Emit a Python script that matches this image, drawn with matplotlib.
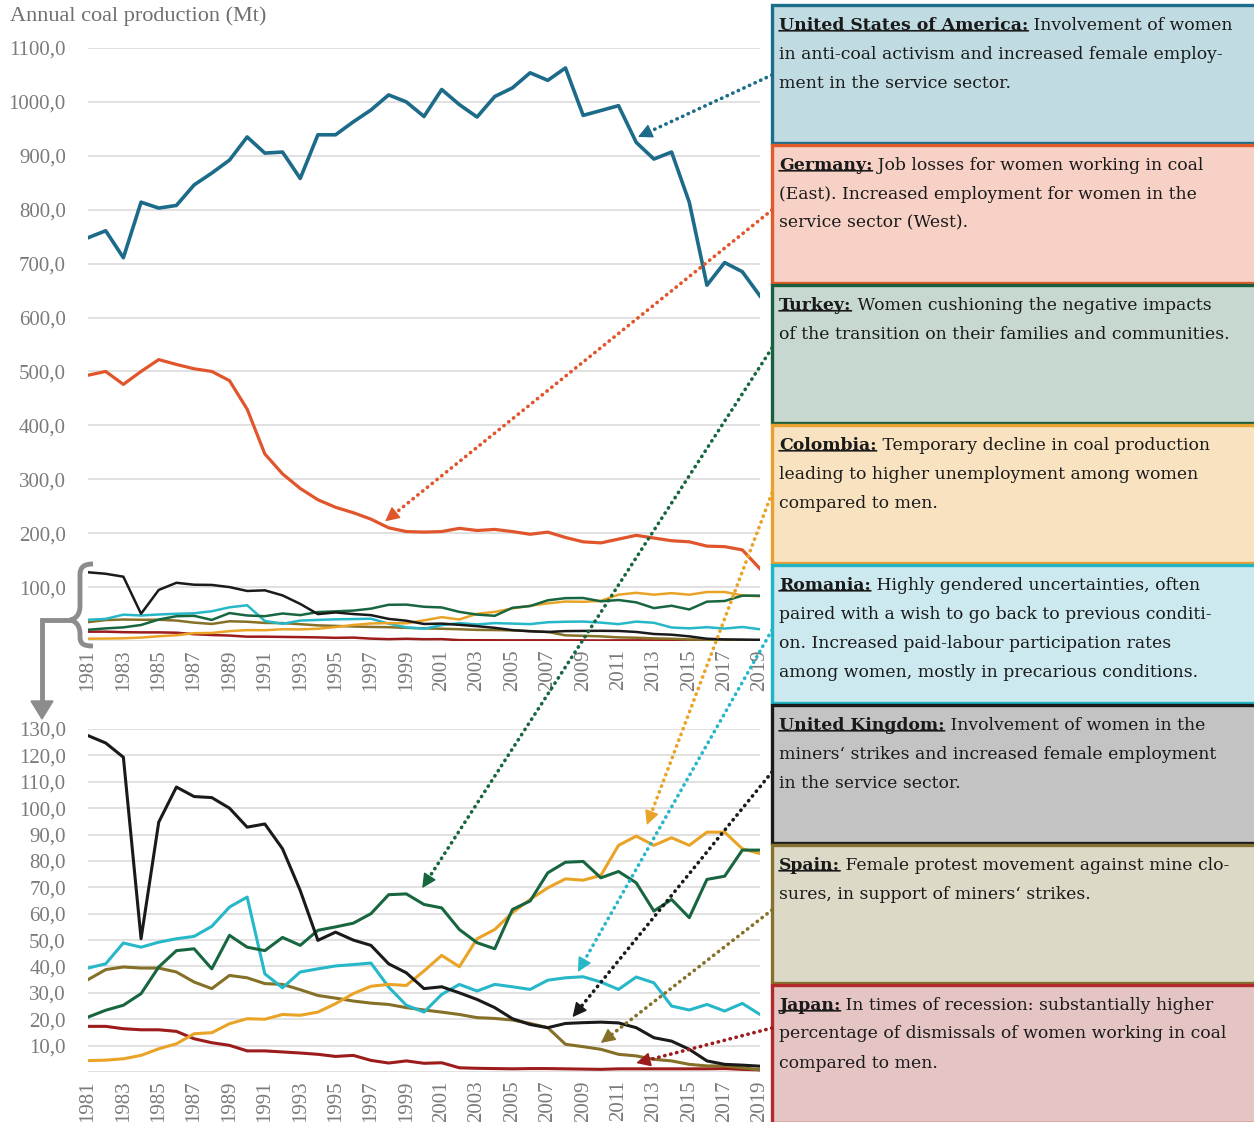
import matplotlib
matplotlib.use("Agg")
import numpy as np
import matplotlib.pyplot as plt
from matplotlib.patches import Rectangle, PathPatch, Polygon
from matplotlib.path import Path

plt.rcParams['font.family'] = ['Liberation Serif', 'DejaVu Serif']

years = list(range(1981, 2020))

# annual coal production (Mt)
usa = [748, 761, 711, 814, 803, 808, 846, 868, 892, 935, 905, 907, 858, 939, 939, 963,
       985, 1013, 1000, 973, 1023, 995, 972, 1010, 1026, 1054, 1040, 1063, 975, 984, 993,
       925, 894, 907, 814, 660, 702, 685, 640]
germany = [493, 500, 476, 500, 522, 513, 505, 500, 483, 430, 347, 310, 283, 262, 248, 238,
           226, 210, 203, 202, 203, 209, 205, 207, 203, 198, 202, 192, 184, 182, 189, 196,
           191, 186, 184, 176, 175, 169, 134]
turkey = [20.8, 23.4, 25.3, 29.7, 39.8, 46.0, 46.7, 39.1, 51.8, 47.3, 46.0, 51.0, 48.0, 53.7,
          55.0, 56.4, 60.0, 67.2, 67.5, 63.5, 62.2, 54.0, 49.0, 46.7, 61.6, 64.8, 75.5, 79.5,
          79.8, 73.6, 76.0, 71.7, 61.0, 65.4, 58.5, 73.0, 74.2, 84.1, 84.1]
colombia = [4.3, 4.5, 5.0, 6.3, 8.8, 10.7, 14.5, 14.9, 18.3, 20.2, 20.0, 21.8, 21.5, 22.7,
            25.9, 29.7, 32.5, 33.2, 32.8, 38.3, 44.2, 39.9, 50.5, 54.0, 60.4, 65.4, 69.8,
            73.2, 72.7, 74.5, 85.9, 89.4, 85.9, 88.8, 85.9, 90.9, 90.9, 84.6, 82.8]
romania = [39.4, 41.0, 48.9, 47.3, 49.2, 50.5, 51.4, 55.2, 62.5, 66.3, 37.2, 31.9, 37.9,
           39.1, 40.2, 40.7, 41.3, 32.2, 25.3, 22.7, 29.4, 33.2, 30.7, 33.2, 32.3, 31.3, 34.8,
           35.7, 36.1, 34.1, 31.3, 36.0, 33.8, 25.0, 23.5, 25.6, 23.1, 26.0, 21.8]
uk = [127.5, 124.7, 119.3, 50.5, 94.7, 108.0, 104.4, 104.0, 100.0, 92.8, 94.0, 84.6, 68.8,
      49.9, 53.0, 50.0, 48.0, 41.0, 37.6, 31.6, 32.3, 30.0, 27.5, 24.4, 20.2, 18.0, 16.8,
      18.4, 18.7, 18.9, 18.6, 16.8, 13.0, 11.7, 8.6, 4.2, 2.9, 2.6, 2.2]
spain = [35.0, 38.8, 39.8, 39.4, 39.4, 37.9, 34.1, 31.6, 36.6, 35.7, 33.5, 33.2, 31.2, 29.0,
         28.0, 26.9, 26.1, 25.6, 24.4, 23.5, 22.7, 21.8, 20.6, 20.3, 19.7, 18.4, 16.8, 10.5,
         9.6, 8.6, 6.7, 6.1, 4.8, 4.2, 2.9, 2.3, 2.3, 1.6, 0.8]
japan = [17.3, 17.3, 16.4, 16.0, 16.0, 15.4, 12.6, 11.1, 10.1, 8.0, 8.0, 7.6, 7.2, 6.7, 5.9,
         6.3, 4.4, 3.4, 4.2, 3.3, 3.5, 1.6, 1.4, 1.3, 1.2, 1.3, 1.3, 1.2, 1.1, 1.0, 1.2, 1.2,
         1.2, 1.2, 1.2, 1.2, 1.3, 1.0, 0.8]

line_colors = {'usa': '#1b6b89', 'germany': '#e0552b', 'turkey': '#17663f',
               'colombia': '#e9a326', 'romania': '#26b7c8', 'uk': '#1a1a1a',
               'spain': '#857027', 'japan': '#9c1b1b'}

small = [('japan', japan), ('spain', spain), ('romania', romania),
         ('colombia', colombia), ('turkey', turkey), ('uk', uk)]

# text boxes: (key, country, lines, fill, edge)
boxes = [
    ('usa', 'United States of America:',
     [' Involvement of women', 'in anti-coal activism and increased female employ-',
      'ment in the service sector.'], '#c0dbe2', '#1c6e8c'),
    ('germany', 'Germany:',
     [' Job losses for women working in coal', '(East). Increased employment for women in the',
      'service sector (West).'], '#f7d1c5', '#e05a2a'),
    ('turkey', 'Turkey:',
     [' Women cushioning the negative impacts',
      'of the transition on their families and communities.'], '#c6d8cf', '#1b5e3e'),
    ('colombia', 'Colombia:',
     [' Temporary decline in coal production', 'leading to higher unemployment among women',
      'compared to men.'], '#f8e2c0', '#e9a02e'),
    ('romania', 'Romania:',
     [' Highly gendered uncertainties, often',
      'paired with a wish to go back to previous conditi-',
      'on. Increased paid-labour participation rates',
      'among women, mostly in precarious conditions.'], '#cce9ef', '#1fb3c4'),
    ('uk', 'United Kingdom:',
     [' Involvement of women in the', 'miners\u2018 strikes and increased female employment',
      'in the service sector.'], '#c3c3c3', '#1a1a1a'),
    ('spain', 'Spain:',
     [' Female protest movement against mine clo-', 'sures, in support of miners\u2018 strikes.'],
     '#dcd9c6', '#857131'),
    ('japan', 'Japan:',
     [' In times of recession: substantially higher',
      'percentage of dismissals of women working in coal', 'compared to men.'],
     '#e5c4c4', '#b32828'),
]

# where each arrow points: (axis, year, value)
arrow_tips = {'usa': ('top', 2012.1, 935), 'germany': ('top', 1997.8, 222),
              'turkey': ('bot', 1999.9, 69.7), 'colombia': ('bot', 2012.6, 93.6),
              'romania': ('bot', 2008.7, 37.9), 'uk': ('bot', 2008.4, 20.8),
              'spain': ('bot', 2010.0, 11.0), 'japan': ('bot', 2012.0, 3.4)}
arrow_starts = {'usa': 75, 'germany': 210, 'turkey': 348, 'colombia': 493,
                'romania': 630, 'uk': 772, 'spain': 910, 'japan': 1028}

W, H = 1254, 1122
grey = '#7a7a7a'
box_font = 'DejaVu Serif'
box_size = 12.4


def fmt(v):
    return '' if v == 0 else f'{v:.1f}'.replace('.', ',')


def style_axis(ax, ymax, step):
    ax.set_xlim(1981, 2019)
    ax.set_ylim(0, ymax)
    ticks = list(range(0, ymax + 1, step))
    ax.set_yticks(ticks)
    ax.set_yticklabels([fmt(t) for t in ticks])
    ax.set_xticks(years[::2])
    ax.set_xticklabels([str(y) for y in years[::2]], rotation=90)
    ax.grid(axis='y', color='#dcdcdc', lw=1.2)
    ax.set_axisbelow(True)
    for s in ax.spines.values():
        s.set_visible(False)
    ax.tick_params(length=0, colors=grey, labelsize=15)
    ax.tick_params(axis='y', pad=16)
    ax.tick_params(axis='x', pad=6)


def main():
    fig = plt.figure(figsize=(W / 100, H / 100), dpi=100)

    ax_top = fig.add_axes([88 / W, 1 - 641 / H, 672 / W, 593 / H])
    ax_bot = fig.add_axes([88 / W, 1 - 1072 / H, 672 / W, 343 / H])

    ax_top.plot(years, usa, color=line_colors['usa'], lw=2.6)
    ax_top.plot(years, germany, color=line_colors['germany'], lw=2.3)
    for key, vals in small:
        ax_top.plot(years, vals, color=line_colors[key], lw=1.8)
        ax_bot.plot(years, vals, color=line_colors[key], lw=2.2)
    style_axis(ax_top, 1100, 100)
    style_axis(ax_bot, 130, 10)

    # overlay in pixel coordinates for boxes, brace and arrows
    over = fig.add_axes([0, 0, 1, 1], zorder=10)
    over.set_xlim(0, W)
    over.set_ylim(H, 0)
    over.axis('off')
    over.patch.set_alpha(0)

    over.text(10, 16, 'Annual coal production (Mt)', fontsize=16, color='#6f6f6f', va='center')

    # brace + grey arrow linking the two panels
    bc = '#8c8c8c'
    verts = [(93, 564), (84, 564), (80, 567), (80, 575), (80, 606),
             (80, 614), (76, 619), (70, 620), (76, 621), (80, 626), (80, 634),
             (80, 637), (80, 644), (84, 646), (93, 646)]
    codes = [Path.MOVETO, Path.CURVE4, Path.CURVE4, Path.CURVE4, Path.LINETO,
             Path.CURVE4, Path.CURVE4, Path.CURVE4, Path.CURVE4, Path.CURVE4, Path.CURVE4,
             Path.LINETO, Path.CURVE4, Path.CURVE4, Path.CURVE4]
    over.add_patch(PathPatch(Path(verts, codes), fill=False, ec=bc, lw=3.5))
    over.plot([72, 42, 42], [620, 620, 703], color=bc, lw=3.5, solid_joinstyle='miter')
    over.add_patch(Polygon([(31, 701), (53, 701), (42, 719)], closed=True, fc=bc, ec=bc))

    # text boxes
    for i, (key, name, lines, fc, ec) in enumerate(boxes):
        top = 5 + i * 140
        over.add_patch(Rectangle((772, top), 500, 138, fc=fc, ec=ec, lw=2.4))
        t = over.text(779, top + 20, name, fontsize=box_size, fontweight='bold',
                      family=box_font, color='#1a1a1a', va='center')
        over.annotate(lines[0], xy=(1, 0.5), xycoords=t, va='center', ha='left',
                      fontsize=box_size, family=box_font, color='#1a1a1a')
        over.annotate('', xy=(0, 0.16), xycoords=t, xytext=(1, 0.16), textcoords=t,
                      arrowprops=dict(arrowstyle='-', lw=1.2, color='#1a1a1a',
                                      shrinkA=0, shrinkB=0))
        for j, ln in enumerate(lines[1:], start=1):
            over.text(779, top + 20 + 29 * j, ln, fontsize=box_size, family=box_font,
                      color='#1a1a1a', va='center')

    # dotted arrows from boxes to the lines, solid heads
    to_over = over.transData.inverted()
    for key, name, lines, fc, ec in boxes:
        which, yr, val = arrow_tips[key]
        target = ax_top if which == 'top' else ax_bot
        tip = np.array(to_over.transform(target.transData.transform((yr, val))))
        start = np.array([772.0, arrow_starts[key]])
        d = (tip - start) / np.hypot(*(tip - start))
        back = tip - 12 * d
        col = line_colors[key]
        over.plot([start[0], back[0]], [start[1], back[1]], color=col, lw=2.6,
                  linestyle=(0, (0.1, 1.6)), dash_capstyle='round')
        over.annotate('', xy=tip, xytext=back,
                      arrowprops=dict(arrowstyle='-|>,head_length=1.1,head_width=0.55',
                                      color=col, lw=1, mutation_scale=8,
                                      shrinkA=0, shrinkB=0))

    fig.savefig('out.png', dpi=100)


if __name__ == '__main__':
    main()
